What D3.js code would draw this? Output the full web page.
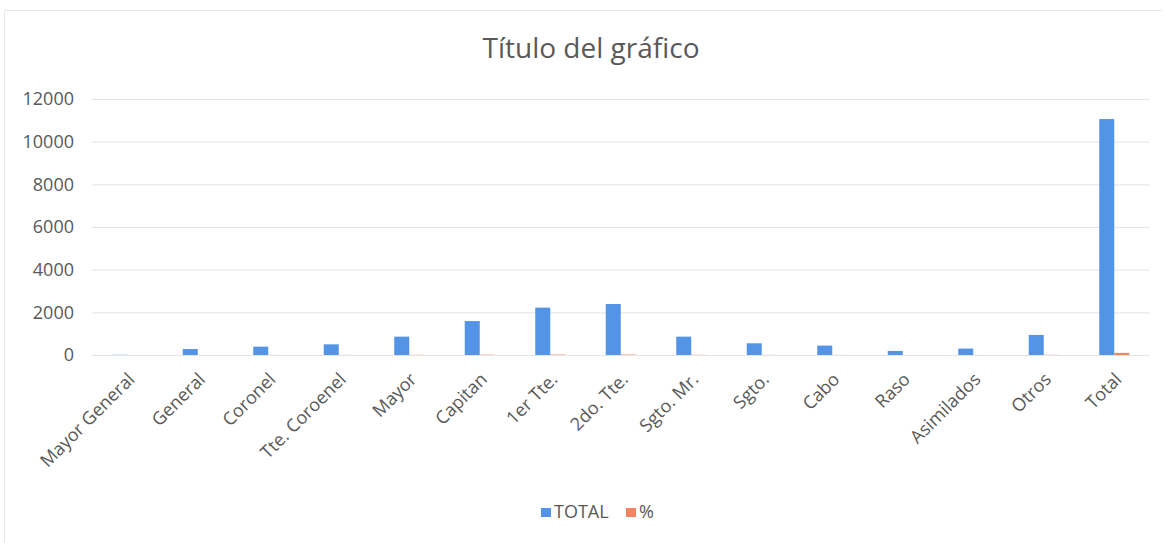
<!DOCTYPE html>
<html>
<head>
<meta charset="utf-8">
<script src="https://cdn.jsdelivr.net/npm/d3@7"></script>
<style>
  html, body { margin: 0; padding: 0; background: #fff; }
  svg { display: block; }
</style>
</head>
<body>
<svg id="chart" width="1167" height="543"></svg>
<script>
const categories = ["Mayor General","General","Coronel","Tte. Coroenel","Mayor","Capitan","1er Tte.","2do. Tte.","Sgto. Mr.","Sgto.","Cabo","Raso","Asimilados","Otros","Total"];
const totalValues = [10, 280, 390, 500, 860, 1590, 2220, 2390, 860, 550, 440, 190, 300, 940, 11060];
const pctValues = [0.1, 2.5, 3.5, 4.5, 7.8, 14.4, 20.1, 21.6, 7.8, 5.0, 4.0, 1.7, 2.7, 8.5, 100];
const yTicks = [0, 2000, 4000, 6000, 8000, 10000, 12000];
const seriesNames = ["TOTAL", "%"];
const colors = ["#5394E6", "#F4845F"];

const svg = d3.select("#chart");
const font = "Open Sans, sans-serif";
const textColor = "#595959";

const W = 1167, H = 543;
const margin = {left: 92, right: W - 1149.5, top: 99, bottom: H - 355};

// faint chart border
svg.append("path")
  .attr("d", `M4.5,${H} L4.5,10.5 L1162,10.5`)
  .attr("fill", "none").attr("stroke", "#e6e6e6").attr("stroke-width", 1);

const x0 = d3.scaleBand().domain(categories).range([margin.left, W - margin.right]).paddingInner(0).paddingOuter(0);
const x1 = d3.scaleBand().domain(seriesNames).range([x0.bandwidth()/2 - 15, x0.bandwidth()/2 + 15]);
const y = d3.scaleLinear().domain([0, 12000]).range([H - margin.bottom, margin.top]);

// gridlines + y labels
const yAxis = d3.axisLeft(y).tickValues(yTicks).tickSize(-(W - margin.right - margin.left)).tickFormat(d3.format("d"));
const gy = svg.append("g").attr("transform", `translate(${margin.left},0)`).call(yAxis);
gy.select(".domain").remove();
gy.selectAll(".tick line").attr("stroke", "#e4e4e4").attr("stroke-width", 1);
gy.selectAll(".tick text").attr("x", -18).attr("fill", textColor)
  .style("font-family", font).style("font-size", "18px");

// bars
const data = categories.map((c, i) => ({cat: c, vals: [totalValues[i], pctValues[i]]}));
const groups = svg.append("g").selectAll("g").data(data).join("g")
  .attr("transform", d => `translate(${x0(d.cat)},0)`);
groups.selectAll("rect").data(d => d.vals.map((v, j) => ({key: seriesNames[j], v, j})))
  .join("rect")
  .attr("x", d => x1(d.key))
  .attr("width", x1.bandwidth())
  .attr("y", d => y(d.v))
  .attr("height", d => y(0) - y(d.v))
  .attr("fill", d => colors[d.j]);

// x axis labels
const xAxis = d3.axisBottom(x0).tickSize(0);
const gx = svg.append("g").attr("transform", `translate(0,${y(0)})`).call(xAxis);
gx.select(".domain").remove();
gx.selectAll(".tick text")
  .attr("fill", textColor)
  .style("font-family", font).style("font-size", "18px")
  .attr("text-anchor", "end")
  .attr("dy", "0.35em")
  .attr("transform", "translate(4,21) rotate(-45)")
  .attr("x", 0).attr("y", 0);

// title
svg.append("text").attr("x", 591).attr("y", 58).attr("text-anchor", "middle")
  .attr("fill", textColor).style("font-family", font).style("font-size", "28px")
  .text("Título del gráfico");

// legend
const legend = svg.append("g").attr("transform", "translate(541,518)");
const items = [{name: seriesNames[0], x: 0}, {name: seriesNames[1], x: 85}];
items.forEach((it, i) => {
  legend.append("rect").attr("x", it.x).attr("y", -10).attr("width", 10).attr("height", 9).attr("fill", colors[i]);
  legend.append("text").attr("x", it.x + 13).attr("y", 0).attr("fill", textColor)
    .style("font-family", font).style("font-size", "18px").text(it.name);
});
</script>
</body>
</html>
